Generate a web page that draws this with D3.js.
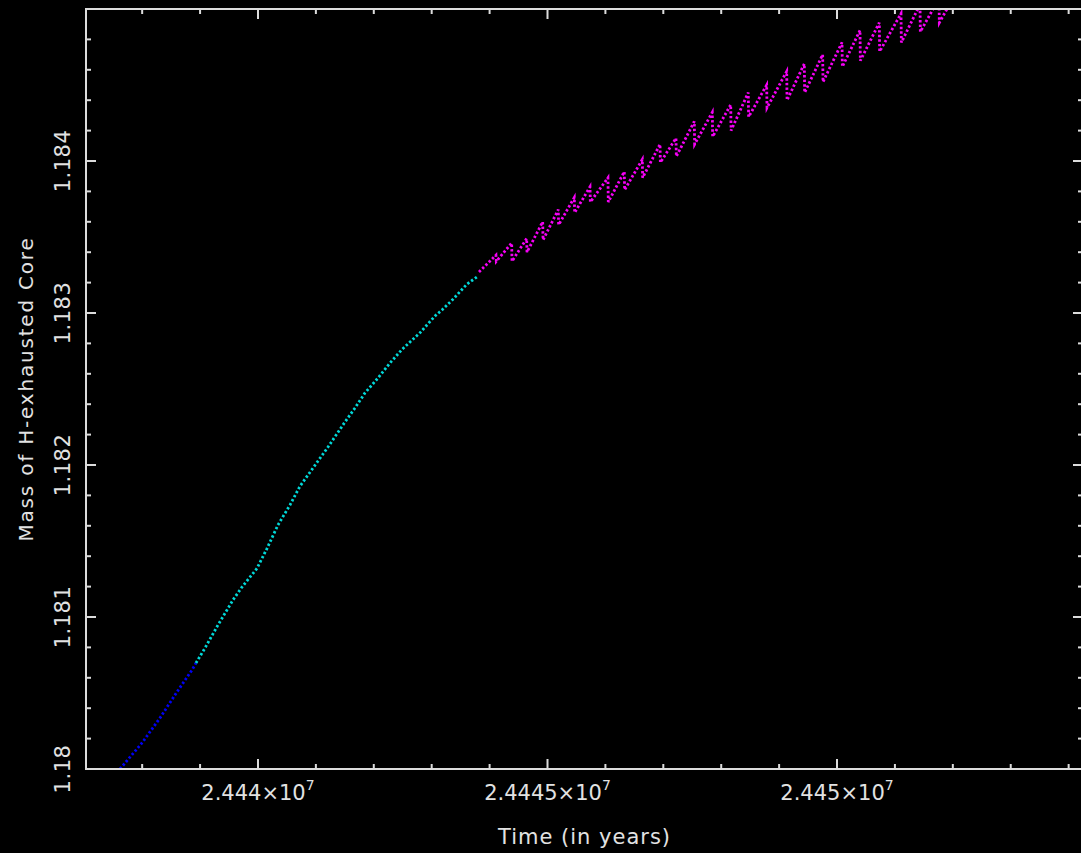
<!DOCTYPE html>
<html>
<head>
<meta charset="utf-8">
<script src="https://cdn.jsdelivr.net/npm/d3@7"></script>
<style>
  html, body { margin: 0; padding: 0; background: #000; }
  svg { display: block; }
  text { font-family: "DejaVu Sans", sans-serif; fill: #e2e2e2; }
</style>
</head>
<body>
<svg id="chart" width="1081" height="853"></svg>
<script>
// axis setup
const xMajorTicks = [24440000, 24445000, 24450000];
const xTickLabels = ["2.444", "2.4445", "2.445"];
const yMajorTicks = [1.18, 1.181, 1.182, 1.183, 1.184];
const yTickLabels = ["1.18", "1.181", "1.182", "1.183", "1.184"];

// blue part of the track
const blueTime = [24437617, 24437997, 24438308, 24438601, 24438860, 24438929];
const blueMass = [1.18, 1.180171, 1.180336, 1.180507, 1.180651, 1.180697];

// cyan part
const cyanTime = [24438929, 24439085, 24439309, 24439568, 24439724, 24439983, 24440155,
  24440345, 24440553, 24440725, 24440950, 24441209, 24441502, 24441675, 24441848,
  24442072, 24442280, 24442487, 24442798, 24443057, 24443178, 24443368,
  24443609, 24443782];
const cyanMass = [1.180697, 1.180796, 1.180947, 1.181112, 1.181197, 1.181320, 1.181450,
  1.181605, 1.181737, 1.181860, 1.18198, 1.182118, 1.182283, 1.182375, 1.182474,
  1.182572, 1.182671, 1.182760, 1.182870, 1.182980, 1.183020, 1.183090,
  1.183190, 1.183237];

// magenta part (sawtooth: top then drop at each pulse)
const magentaTime = [24443817,
  24444110, 24444116, 24444381, 24444387, 24444640, 24444646, 24444917, 24444923,
  24445186, 24445192, 24445463, 24445469, 24445734, 24445740, 24446044, 24446050,
  24446326, 24446332, 24446637, 24446643, 24446943, 24446949, 24447219, 24447225,
  24447535, 24447541, 24447846, 24447852, 24448164, 24448170, 24448467, 24448473,
  24448785, 24448791, 24449131, 24449137, 24449435, 24449441, 24449752, 24449758,
  24450086, 24450092, 24450397, 24450403, 24450730, 24450736, 24451105, 24451111,
  24451433, 24451439, 24451761, 24451767, 24452089, 24452095];
const magentaMass = [1.18327,
  1.18338, 1.18334, 1.18346, 1.18334, 1.18349, 1.18340, 1.18360, 1.18348,
  1.18368, 1.18358, 1.18376, 1.18366, 1.18383, 1.18373, 1.18389, 1.18373,
  1.18393, 1.18381, 1.18401, 1.18389, 1.18411, 1.18399, 1.18415, 1.18403,
  1.18426, 1.18411, 1.18432, 1.18416, 1.18437, 1.18420, 1.18445, 1.18429,
  1.18450, 1.18435, 1.18459, 1.18440, 1.18464, 1.18445, 1.18470, 1.18452,
  1.18478, 1.18462, 1.18486, 1.18466, 1.18491, 1.18472, 1.18497, 1.18478,
  1.18503, 1.18485, 1.18507, 1.18491, 1.18513, 1.18501];

const axisColor = "#dcdcdc";
const plotLeft = 86, plotRight = 1083, plotTop = 9, plotBottom = 769;

const svg = d3.select("#chart");
svg.append("rect").attr("width", 1081).attr("height", 853).attr("fill", "#000");

const x = d3.scaleLinear().domain([24437030, 24454248]).range([plotLeft, plotRight]);
const y = d3.scaleLinear().domain([1.18, 1.185]).range([plotBottom, plotTop]);

svg.append("clipPath").attr("id", "plotclip")
  .append("rect")
  .attr("x", plotLeft).attr("y", plotTop)
  .attr("width", plotRight - plotLeft).attr("height", plotBottom - plotTop);

function drawSeries(times, masses, color) {
  let pts = times.map((t, i) => [t, masses[i]]);
  let line = d3.line().x(d => x(d[0])).y(d => y(d[1]));
  svg.append("path")
    .attr("clip-path", "url(#plotclip)")
    .attr("d", line(pts))
    .attr("fill", "none")
    .attr("stroke", color)
    .attr("stroke-width", 2.8)
    .attr("stroke-dasharray", "2.4,2.2");
}

drawSeries(blueTime, blueMass, "#0000f5");
drawSeries(cyanTime, cyanMass, "#00d8d8");
drawSeries(magentaTime, magentaMass, "#f500f5");

// ticks, all four sides pointing inward
const xMinor = d3.range(24438000, 24454248, 1000);
const yMinor = d3.range(0, 26).map(i => 1.18 + i * 0.0002);

function isMajorX(t) { return t % 5000 === 0; }
function isMajorY(v) { return Math.abs(v * 1000 - Math.round(v * 1000)) < 1e-6; }

let ticks = svg.append("g").attr("stroke", axisColor).attr("stroke-width", 2);
xMinor.forEach(t => {
  let len = isMajorX(t) ? 10 : 5;
  ticks.append("line").attr("x1", x(t)).attr("x2", x(t)).attr("y1", plotBottom).attr("y2", plotBottom - len);
  ticks.append("line").attr("x1", x(t)).attr("x2", x(t)).attr("y1", plotTop).attr("y2", plotTop + len);
});
yMinor.forEach(v => {
  let len = isMajorY(v) ? 10 : 5;
  ticks.append("line").attr("x1", plotLeft).attr("x2", plotLeft + len).attr("y1", y(v)).attr("y2", y(v));
  ticks.append("line").attr("x1", plotRight).attr("x2", plotRight - len).attr("y1", y(v)).attr("y2", y(v));
});

svg.append("rect")
  .attr("x", plotLeft).attr("y", plotTop)
  .attr("width", plotRight - plotLeft).attr("height", plotBottom - plotTop)
  .attr("fill", "none").attr("stroke", axisColor).attr("stroke-width", 2);

// x tick labels with the x10^7 part
xMajorTicks.forEach((t, i) => {
  let lab = svg.append("text")
    .attr("x", x(t)).attr("y", 800)
    .attr("text-anchor", "middle")
    .attr("font-size", 21);
  lab.append("tspan").text(xTickLabels[i] + "\u00d710");
  lab.append("tspan").attr("dy", -10).attr("font-size", 14).text("7");
});

yMajorTicks.forEach((v, i) => {
  svg.append("text")
    .attr("transform", `translate(70,${y(v)}) rotate(-90)`)
    .attr("text-anchor", "middle")
    .attr("font-size", 21)
    .attr("letter-spacing", 0.5)
    .text(yTickLabels[i]);
});

svg.append("text")
  .attr("x", (plotLeft + plotRight) / 2).attr("y", 844)
  .attr("text-anchor", "middle")
  .attr("font-size", 21)
  .attr("letter-spacing", 1)
  .text("Time (in years)");

svg.append("text")
  .attr("transform", `translate(33,${(plotTop + plotBottom) / 2}) rotate(-90)`)
  .attr("text-anchor", "middle")
  .attr("font-size", 20)
  .attr("letter-spacing", 1.8)
  .text("Mass of H-exhausted Core");
</script>
</body>
</html>
